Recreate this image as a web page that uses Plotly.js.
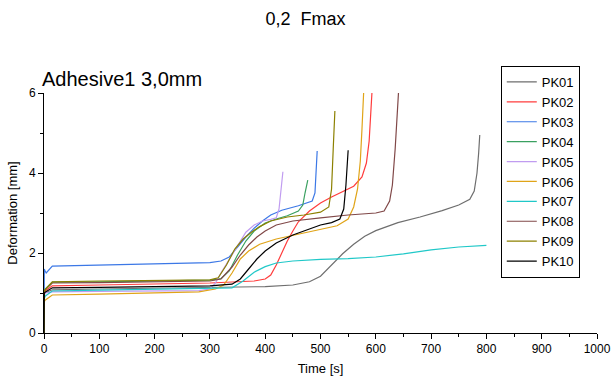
<!DOCTYPE html>
<html><head><meta charset="utf-8">
<script src="https://cdn.plot.ly/plotly-3.0.1.min.js"></script>
<style>html,body{margin:0;padding:0;background:#fff}#chart{width:611px;height:380px}</style>
</head><body><div id="chart"></div>
<script>
const names = ['PK01','PK02','PK03','PK04','PK05','PK06','PK07','PK08','PK09','PK10'];
const colors = ['#6e6e6e','#ff3c3c','#3c78e6','#3aa060','#c09cf0','#e0a418','#20c8c8','#804848','#8c8000','#000000'];

const t01 = [0,0.5,2,15,100,200,300,400,450,480,500,520,540,560,580,600,640,680,720,750,770,778,783,786,788];
const y01 = [0,1.0,1.0,1.08,1.1,1.12,1.14,1.16,1.2,1.28,1.42,1.7,1.98,2.22,2.42,2.56,2.76,2.9,3.06,3.2,3.34,3.55,4.0,4.5,4.95];
const t02 = [0,0.5,2,15,100,200,300,380,400,410,420,430,440,450,460,480,500,520,540,560,575,583,588,591,593];
const y02 = [0,1.0,1.05,1.18,1.2,1.22,1.25,1.3,1.35,1.45,1.7,2.0,2.3,2.55,2.78,3.05,3.25,3.4,3.53,3.67,3.9,4.25,4.8,5.4,6.0];
const t03 = [0,0.5,2,4,15,100,200,300,320,335,350,365,380,395,410,430,460,485,490,492,494];
const y03 = [0,1.6,1.55,1.5,1.67,1.7,1.72,1.76,1.8,1.9,2.15,2.4,2.62,2.8,2.95,3.07,3.18,3.3,3.5,4.0,4.55];
const t04 = [0,0.5,2,15,100,200,300,320,335,350,365,380,400,420,440,460,468,472,475,477];
const y04 = [0,1.05,1.1,1.27,1.28,1.3,1.32,1.36,1.55,1.95,2.3,2.55,2.75,2.85,2.93,3.05,3.2,3.5,3.75,3.82];
const t05 = [0,0.5,2,15,100,200,280,300,310,320,335,350,365,380,395,410,420,425,428,430,432];
const y05 = [0,0.9,1.0,1.03,1.04,1.05,1.06,1.1,1.25,1.5,1.85,2.2,2.52,2.7,2.8,2.84,2.88,3.1,3.5,3.8,4.03];
const t06 = [0,0.5,2,15,100,200,280,310,325,340,355,370,390,420,460,500,530,550,560,567,572,575,578];
const y06 = [0,0.78,0.82,0.95,0.97,1.0,1.03,1.1,1.2,1.5,1.85,2.05,2.22,2.35,2.47,2.58,2.68,2.85,3.15,3.6,4.3,5.1,6.0];
const t07 = [0,0.5,2,15,100,200,300,340,360,380,400,420,450,500,550,600,650,700,750,800];
const y07 = [0,0.85,0.92,1.05,1.07,1.09,1.11,1.13,1.3,1.52,1.66,1.75,1.8,1.84,1.86,1.9,1.98,2.08,2.15,2.19];
const t08 = [0,0.5,2,15,100,200,300,320,340,355,370,385,400,420,450,500,550,600,615,625,630,635,638,641];
const y08 = [0,1.05,1.08,1.25,1.26,1.28,1.3,1.35,1.65,1.95,2.2,2.4,2.55,2.7,2.8,2.88,2.95,3.0,3.05,3.3,3.7,4.6,5.3,6.0];
const t09 = [0,0.5,2,15,100,200,300,315,330,345,360,375,390,410,440,470,500,515,520,523,526];
const y09 = [0,1.0,1.08,1.28,1.3,1.31,1.33,1.38,1.7,2.1,2.35,2.52,2.66,2.8,2.9,2.95,3.02,3.15,3.6,4.6,5.55];
const t10 = [0,0.5,2,15,100,200,300,340,355,370,385,400,420,450,480,500,520,535,542,546,550];
const y10 = [0,1.0,1.02,1.13,1.14,1.16,1.18,1.22,1.35,1.6,1.85,2.05,2.25,2.45,2.6,2.7,2.76,2.85,3.1,3.7,4.57];

const xs = [t01,t02,t03,t04,t05,t06,t07,t08,t09,t10];
const ys = [y01,y02,y03,y04,y05,y06,y07,y08,y09,y10];

const FONT = 'Liberation Sans, Arial, sans-serif';
const data = names.map((n,i)=>({x:xs[i],y:ys[i],name:n,type:'scatter',mode:'lines',line:{color:colors[i],width:1.2}}));

const layout = {
  width:611,height:380,
  margin:{l:44,r:14,t:93,b:47},
  paper_bgcolor:'#fff',plot_bgcolor:'#fff',
  font:{family:FONT,color:'#000',size:12},
  title:{text:'0,2\u00a0 Fmax',font:{size:18,family:FONT},x:0.5,xanchor:'center',y:0.952,yanchor:'middle'},
  showlegend:true,
  legend:{x:0.826,y:1.1125,xanchor:'left',yanchor:'top',bordercolor:'#000',borderwidth:1,maxheight:400,font:{size:13,family:FONT},bgcolor:'rgba(255,255,255,0)',tracegroupgap:0},
  xaxis:{range:[0,1000],dtick:100,tick0:0,showgrid:false,zeroline:false,showline:true,linecolor:'#000',linewidth:1,ticks:'outside',ticklen:5,tickcolor:'#000',
    minor:{dtick:50,ticks:'outside',ticklen:3,tickcolor:'#000',showgrid:false},
    tickfont:{size:12,family:FONT},title:{text:'Time [s]',font:{size:13,family:FONT},standoff:8}},
  yaxis:{range:[0,6],dtick:2,tick0:0,showgrid:false,zeroline:false,showline:true,linecolor:'#000',linewidth:1,ticks:'outside',ticklen:5,tickcolor:'#000',
    minor:{dtick:1,ticks:'outside',ticklen:3,tickcolor:'#000',showgrid:false},
    tickfont:{size:12,family:FONT},title:{text:'Deformation [mm]',font:{size:13,family:FONT},standoff:8}},
  annotations:[{text:'Adhesive1 3,0mm',xref:'paper',yref:'paper',x:-0.008,y:1.06,xanchor:'left',yanchor:'middle',showarrow:false,font:{size:20,family:FONT}}]
};
Plotly.newPlot('chart',data,layout,{displayModeBar:false,staticPlot:true});
</script></body></html>
